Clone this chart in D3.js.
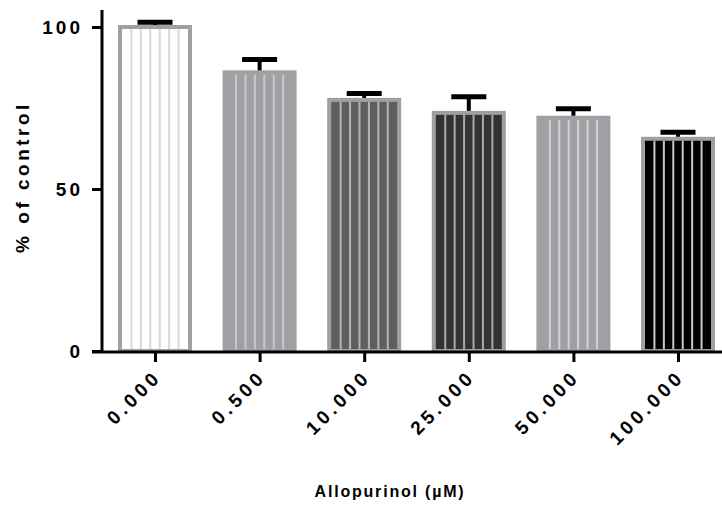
<!DOCTYPE html>
<html><head><meta charset="utf-8">
<script src="https://cdn.jsdelivr.net/npm/d3@7"></script>
<style>
html,body{margin:0;padding:0;background:#fff;}
text{font-family:"Liberation Sans",Arial,sans-serif;font-weight:bold;fill:#000;}
</style></head>
<body><svg id="c" width="722" height="512"></svg>
<script>
const categories = ["0.000","0.500","10.000","25.000","50.000","100.000"];
const values = [100, 86, 77.5, 73.5, 72, 65.5];
const errors = [1.5, 4, 2, 5, 2.8, 2];
const yTicks = [0, 50, 100];
const fills = ["#ffffff","#a0a0a4","#5e5e5e","#333333","#a0a0a4","#000000"];
const stripeColors = ["#d9d9d9","#c8c8cc","#b4b4b4","#a8a8a8","#d2d2d2","#c8c8c8"];

const svg = d3.select("#c");
const y = d3.scaleLinear().domain([0,100]).range([351,27]);
const x = d3.scalePoint().domain(categories).range([155,678]);
const barW = 70, nStripes = 6;
const FS = 19;

// bars
const g = svg.append("g");
categories.forEach((c,i)=>{
  const cx = x(c), x0 = cx - barW/2, top = y(values[i]), bot = y(0);
  g.append("rect").attr("x",x0).attr("y",top).attr("width",barW).attr("height",bot-top)
    .attr("fill",fills[i]);
  const inner = barW - 4;
  for(let k=1;k<=nStripes;k++){
    const sx = x0 + 2 + k*inner/(nStripes+1);
    g.append("rect").attr("x",sx-1).attr("y",top+2).attr("width",2).attr("height",bot-top-2)
      .attr("fill",stripeColors[i]);
  }
  g.append("rect").attr("x",x0).attr("y",top).attr("width",barW).attr("height",bot-top)
    .attr("fill","none").attr("stroke","#a0a0a4").attr("stroke-width",4);
  // error bar
  const ye = y(values[i]+errors[i]);
  g.append("line").attr("x1",cx).attr("x2",cx).attr("y1",top-2).attr("y2",ye)
    .attr("stroke","#000").attr("stroke-width",4);
  g.append("line").attr("x1",cx-17.5).attr("x2",cx+17.5).attr("y1",ye).attr("y2",ye)
    .attr("stroke","#000").attr("stroke-width",5);
});

// y axis
const yAxis = d3.axisLeft(y).tickValues(yTicks).tickSize(10).tickPadding(9).tickFormat(d3.format("d"));
const ya = svg.append("g").attr("transform","translate(102,0)").call(yAxis);
ya.select(".domain").attr("d","M0,10V352.5").attr("stroke","#000").attr("stroke-width",3);
ya.selectAll(".tick line").attr("stroke","#000").attr("stroke-width",3);
ya.selectAll(".tick text").attr("font-size",FS).attr("font-family","Liberation Sans, Arial, sans-serif")
  .attr("font-weight","bold").attr("letter-spacing","3px").attr("fill","#000");

// x axis
const xAxis = d3.axisBottom(x).tickSize(10).tickPadding(6);
const xa = svg.append("g").attr("transform","translate(0,352)").call(xAxis);
xa.select(".domain").attr("d","M92,0H722").attr("stroke","#000").attr("stroke-width",3);
xa.selectAll(".tick line").attr("stroke","#000").attr("stroke-width",3);
xa.selectAll(".tick text").attr("font-size",FS).attr("font-family","Liberation Sans, Arial, sans-serif")
  .attr("font-weight","bold").attr("letter-spacing","4px").attr("fill","#000")
  .attr("text-anchor","end").attr("dy",null).attr("y",0)
  .attr("transform","translate(7,26) rotate(-45)");

// axis titles
svg.append("text").attr("transform","translate(29,177) rotate(-90)").attr("text-anchor","middle")
  .attr("font-size",FS).attr("letter-spacing","3.5px").text("% of control");
svg.append("text").attr("x",390).attr("y",497).attr("text-anchor","middle")
  .attr("font-size",16).attr("letter-spacing","1.8px").text("Allopurinol (µM)");
</script></body></html>
